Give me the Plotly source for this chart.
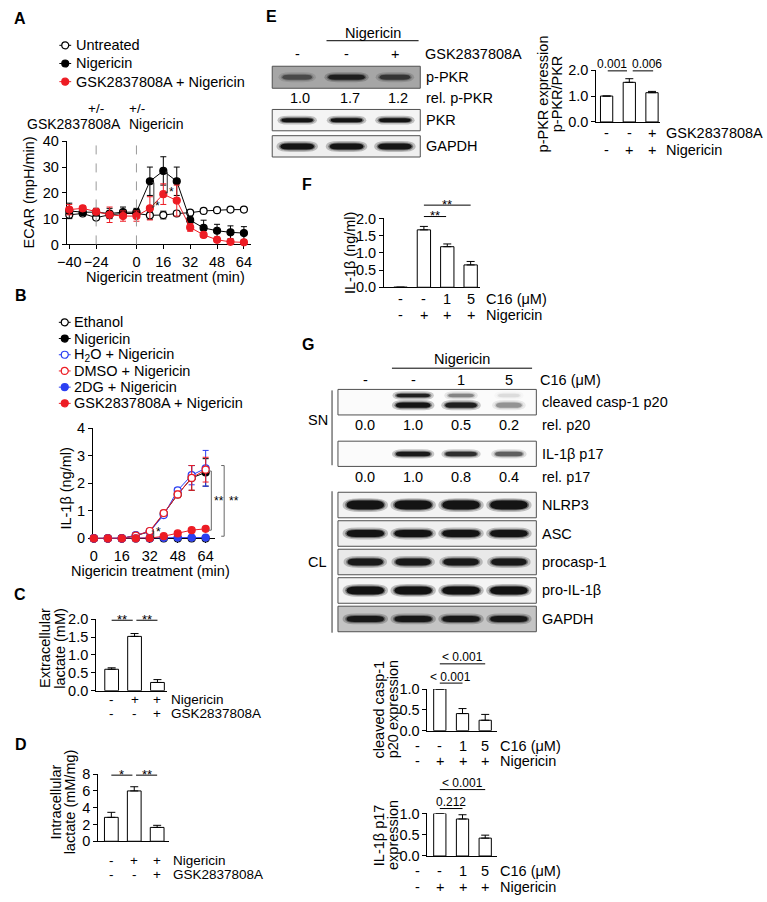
import plotly.graph_objects as go

W, H = 767, 902
FONT = "Liberation Sans, Arial, Helvetica, sans-serif"
FS = 14.5
RED = "#ed1c24"
BLUE = "#2b3ff2"

# ---------------- data ----------------
# Panel A: ECAR (mpH/min)
a_time = [-40, -32, -24, -16, -8, 0, 8, 16, 24, 32, 40, 48, 56, 64]
a_untreated = [11.5, 12.0, 10.4, 11.5, 12.0, 12.0, 11.3, 11.4, 12.0, 12.3, 13.0, 13.3, 13.5, 13.5]
a_untreated_err = [1.2, 0.8, 0.6, 1.0, 1.0, 1.0, 1.5, 1.5, 0.8, 0.5, 0.6, 0.5, 0.5, 0.5]
a_nig = [13.0, 12.5, 12.5, 12.0, 12.5, 12.5, 24.5, 28.5, 24.5, 9.4, 6.4, 5.3, 4.7, 4.4]
a_nig_err = [3.0, 1.0, 1.5, 2.0, 2.0, 1.5, 5.5, 5.5, 5.5, 1.5, 3.0, 2.5, 2.5, 2.5]
a_gsk = [13.5, 14.0, 12.7, 11.5, 11.0, 11.0, 14.0, 19.5, 17.0, 6.6, 3.7, 1.8, 1.0, 0.8]
a_gsk_err = [2.0, 1.0, 1.0, 3.0, 2.0, 2.0, 4.5, 4.0, 6.0, 1.5, 1.0, 0.8, 0.5, 0.5]
a_xticks = [-40, -24, 0, 16, 32, 48, 64]

# Panel B: IL-1beta (ng/ml)
b_time = [0, 8, 16, 24, 32, 40, 48, 56, 64]
b_ethanol = [0.0, 0.0, 0.0, 0.0, 0.0, 0.0, 0.0, 0.0, 0.0]
b_ethanol_err = [0.0, 0.0, 0.0, 0.0, 0.0, 0.0, 0.0, 0.0, 0.0]
b_nig = [0.0, 0.0, 0.0, 0.1, 0.25, 0.9, 1.6, 2.2, 2.4]
b_nig_err = [0.0, 0.0, 0.0, 0.02, 0.05, 0.08, 0.1, 0.45, 0.5]
b_h2o = [0.0, 0.0, 0.0, 0.12, 0.25, 0.85, 1.75, 2.3, 2.55]
b_h2o_err = [0.0, 0.0, 0.0, 0.02, 0.05, 0.08, 0.1, 0.35, 0.65]
b_dmso = [0.0, 0.0, 0.0, 0.1, 0.27, 0.92, 1.6, 2.2, 2.5]
b_dmso_err = [0.0, 0.0, 0.0, 0.02, 0.05, 0.1, 0.12, 0.45, 0.45]
b_2dg = [0.0, 0.0, 0.0, 0.0, 0.0, 0.02, 0.03, 0.03, 0.03]
b_2dg_err = [0.0, 0.0, 0.0, 0.0, 0.0, 0.01, 0.01, 0.01, 0.01]
b_gsk = [0.0, 0.0, 0.0, 0.0, 0.01, 0.08, 0.18, 0.3, 0.35]
b_gsk_err = [0.0, 0.0, 0.0, 0.0, 0.01, 0.02, 0.03, 0.03, 0.04]
b_xticks = [0, 16, 32, 48, 64]

# Panel C / D: lactate
c_vals = [0.6, 1.52, 0.23]
c_err = [0.04, 0.08, 0.08]
d_vals = [2.85, 6.0, 1.65]
d_err = [0.6, 0.5, 0.25]
cd_nig = ["-", "+", "+"]
cd_gsk = ["-", "-", "+"]

# Panel E: p-PKR/PKR
e_vals = [1.0, 1.53, 1.13]
e_err = [0.0, 0.14, 0.05]
e_gsk = ["-", "-", "+"]
e_nig = ["-", "+", "+"]
e_rel = ["1.0", "1.7", "1.2"]
e_band_ppkr = [0.45, 0.8, 0.6]
e_band_pkr = [0.95, 0.95, 0.95]
e_band_gapdh = [0.95, 0.95, 0.95]

# Panel F: IL-1beta with C16
f_vals = [0.0, 1.67, 1.18, 0.65]
f_err = [0.0, 0.1, 0.08, 0.1]
c16 = ["-", "-", "1", "5"]
nig4 = ["-", "+", "+", "+"]

# Panel G
g1_vals = [0.0, 1.0, 0.41, 0.25]
g1_err = [0.0, 0.0, 0.12, 0.14]
g2_vals = [0.0, 1.0, 0.87, 0.42]
g2_err = [0.0, 0.0, 0.1, 0.07]
g_rel_p20 = ["0.0", "1.0", "0.5", "0.2"]
g_rel_p17 = ["0.0", "1.0", "0.8", "0.4"]
g_band_p20_up = [0.0, 0.85, 0.35, 0.08]
g_band_p20_low = [0.0, 0.95, 0.85, 0.3]
g_band_p17 = [0.0, 0.9, 0.75, 0.5]
g_band_nlrp3 = [0.95, 0.95, 0.95, 0.95]
g_band_asc = [0.95, 0.95, 0.95, 0.95]
g_band_procasp = [0.9, 0.9, 0.9, 0.9]
g_band_proil = [0.97, 0.97, 0.97, 0.97]
g_band_gapdh = [0.9, 0.9, 0.9, 0.9]

# ---------------- layout geometry (pixels) ----------------
AXES = {
    "A": dict(n=1, x=(57.5, 245.0), xr=(-42.1, 68.1), y=(135.7, 240.7), yr=(0, 40)),
    "B": dict(n=2, x=(84.0, 208.8), xr=(-1.13, 69.4), y=(428.0, 540.0), yr=(0, 4)),
    "C": dict(n=3, x=(87.3, 160.4), xr=(-0.72, 2.43), y=(622.3, 695.0), yr=(0, 2)),
    "D": dict(n=4, x=(89.3, 162.4), xr=(-0.62, 2.53), y=(780.0, 848.3), yr=(0, 8)),
    "E": dict(n=5, x=(594.0, 660.0), xr=(-0.5, 2.37), y=(63.3, 116.0), yr=(0, 2)),
    "F": dict(n=6, x=(379.0, 477.7), xr=(-0.747, 3.42), y=(214.3, 284.3), yr=(0, 2)),
    "G1": dict(n=7, x=(423.0, 494.0), xr=(0.413, 3.5), y=(693.3, 735.7), yr=(0, 1)),
    "G2": dict(n=8, x=(423.0, 494.0), xr=(0.413, 3.5), y=(820.0, 863.3), yr=(0, 1)),
}


def fx(p):
    return p / W


def fy(p):
    return 1 - p / H


def PX(ax, v):
    d = AXES[ax]
    x0, x1 = d["x"]
    r0, r1 = d["xr"]
    return x0 + (v - r0) / (r1 - r0) * (x1 - x0)


def PY(ax, v):
    d = AXES[ax]
    y0, y1 = d["y"]
    r0, r1 = d["yr"]
    return y1 - (v - r0) / (r1 - r0) * (y1 - y0)


def axref(ax):
    n = AXES[ax]["n"]
    return ("x" if n == 1 else f"x{n}"), ("y" if n == 1 else f"y{n}")


shapes = []
anns = []


def txt(x, y, s, size=FS, xa="center", ya="middle", angle=0, bold=False):
    if bold:
        s = f"<b>{s}</b>"
    anns.append(dict(x=fx(x), y=fy(y), xref="paper", yref="paper", text=s, showarrow=False,
                     xanchor=xa, yanchor=ya, textangle=angle, borderpad=0,
                     font=dict(size=size, family=FONT, color="black")))


def seg(x0, y0, x1, y1, color="black", width=1, dash="solid"):
    shapes.append(dict(type="line", xref="paper", yref="paper", x0=fx(x0), y0=fy(y0),
                       x1=fx(x1), y1=fy(y1), line=dict(color=color, width=width, dash=dash)))


def box(x0, y0, x1, y1, fill, lc="#555555"):
    shapes.append(dict(type="rect", xref="paper", yref="paper", x0=fx(x0), y0=fy(y0),
                       x1=fx(x1), y1=fy(y1), fillcolor=fill, line=dict(color=lc, width=1)))


def stadium(cx, cy, w, h):
    x0, x1 = cx - w / 2, cx + w / 2
    y0, y1 = cy - h / 2, cy + h / 2
    rx = min(h * 1.3, w / 2)
    return (f"M{fx(x0 + rx)},{fy(y0)} L{fx(x1 - rx)},{fy(y0)} Q{fx(x1)},{fy(y0)} {fx(x1)},{fy(cy)} "
            f"Q{fx(x1)},{fy(y1)} {fx(x1 - rx)},{fy(y1)} L{fx(x0 + rx)},{fy(y1)} "
            f"Q{fx(x0)},{fy(y1)} {fx(x0)},{fy(cy)} Q{fx(x0)},{fy(y0)} {fx(x0 + rx)},{fy(y0)} Z")


def band(cx, cy, w, h, a):
    if a <= 0:
        return
    for dw, dh, k in [(8, 5, 0.25), (3, 2, 0.45), (0, 0, 1.0)]:
        shapes.append(dict(type="path", xref="paper", yref="paper", path=stadium(cx, cy, w + dw, h + dh),
                           fillcolor=f"rgba(15,15,15,{min(1.0, a * k):.3f})", line=dict(width=0)))


def leg_sym(x, y, color, filled):
    seg(x - 6, y, x + 6, y, color=color, width=1)
    shapes.append(dict(type="circle", xref="paper", yref="paper", xsizemode="pixel", ysizemode="pixel",
                       xanchor=fx(x), yanchor=fy(y), x0=-3.5, x1=3.5, y0=-3.5, y1=3.5,
                       fillcolor=color if filled else "white", line=dict(color=color, width=1.2)))


fig = go.Figure()


def line_trace(ax, xs, ys, err, color, filled):
    xr, yr = axref(ax)
    fig.add_trace(go.Scatter(
        x=xs, y=ys, mode="lines+markers", xaxis=xr, yaxis=yr, cliponaxis=False,
        line=dict(color=color, width=1),
        marker=dict(symbol="circle", size=7, color=color if filled else "white",
                    line=dict(color=color, width=1.2)),
        error_y=dict(type="data", array=err, symmetric=True, color=color, thickness=1, width=3)))


def bar_trace(ax, vals, err, width):
    xr, yr = axref(ax)
    fig.add_trace(go.Bar(
        x=list(range(len(vals))), y=vals, width=width, xaxis=xr, yaxis=yr,
        marker=dict(color="white", line=dict(color="black", width=1)),
        error_y=dict(type="data", array=err, arrayminus=[0] * len(err), symmetric=False,
                     color="black", thickness=1, width=4)))


# ---- Panel A ----
line_trace("A", a_time, a_untreated, a_untreated_err, "black", False)
line_trace("A", a_time, a_nig, a_nig_err, "black", True)
line_trace("A", a_time, a_gsk, a_gsk_err, RED, True)
# ---- Panel B ----
line_trace("B", b_time, b_ethanol, b_ethanol_err, "black", False)
line_trace("B", b_time, b_nig, b_nig_err, "black", True)
line_trace("B", b_time, b_h2o, b_h2o_err, BLUE, False)
line_trace("B", b_time, b_dmso, b_dmso_err, RED, False)
line_trace("B", b_time, b_2dg, b_2dg_err, BLUE, True)
line_trace("B", b_time, b_gsk, b_gsk_err, RED, True)
# ---- bars ----
bar_trace("C", c_vals, c_err, 0.6)
bar_trace("D", d_vals, d_err, 0.6)
bar_trace("E", e_vals, e_err, 0.54)
bar_trace("F", f_vals, f_err, 0.57)
bar_trace("G1", g1_vals, g1_err, 0.54)
bar_trace("G2", g2_vals, g2_err, 0.54)

# ---- axes ----
layout_axes = {}
tickinfo = {
    "A": dict(x=dict(tickvals=a_xticks), y=dict(tickvals=[0, 10, 20, 30, 40])),
    "B": dict(x=dict(tickvals=b_xticks), y=dict(tickvals=[0, 1, 2, 3, 4])),
    "C": dict(y=dict(tickvals=[0, 0.5, 1, 1.5, 2], ticktext=["0.0", "0.5", "1.0", "1.5", "2.0"])),
    "D": dict(y=dict(tickvals=[0, 2, 4, 6, 8])),
    "E": dict(y=dict(tickvals=[0, 1, 2], ticktext=["0.0", "1.0", "2.0"])),
    "F": dict(y=dict(tickvals=[0, 0.5, 1, 1.5, 2], ticktext=["0.0", "0.5", "1.0", "1.5", "2.0"])),
    "G1": dict(y=dict(tickvals=[0, 0.5, 1], ticktext=["0.0", "0.5", "1.0"])),
    "G2": dict(y=dict(tickvals=[0, 0.5, 1], ticktext=["0.0", "0.5", "1.0"])),
}
for ax, d in AXES.items():
    n = d["n"]
    xr, yr = axref(ax)
    base = dict(showline=True, linecolor="black", linewidth=1, showgrid=False, zeroline=False,
                ticks="outside", ticklen=4, tickwidth=1, tickcolor="black", fixedrange=True,
                tickfont=dict(size=FS, family=FONT, color="black"), layer="below traces")
    xa = dict(base, domain=[d["x"][0] / W, d["x"][1] / W], range=list(d["xr"]), anchor=yr)
    ya = dict(base, domain=[1 - d["y"][1] / H, 1 - d["y"][0] / H], range=list(d["yr"]),
              anchor="free", position=d["x"][0] / W, side="left")
    ti = tickinfo[ax]
    if "x" in ti:
        xa.update(tickmode="array", **ti["x"])
    else:
        xa.update(ticks="", showticklabels=False)
    ya.update(tickmode="array", **ti["y"])
    layout_axes["xaxis" if n == 1 else f"xaxis{n}"] = xa
    layout_axes["yaxis" if n == 1 else f"yaxis{n}"] = ya

# ---------------- annotations & decorations ----------------
# Panel letters
for lab, x, y in [("A", 11, 11), ("B", 12, 293), ("C", 11, 597), ("D", 12, 750),
                  ("E", 266, 9), ("F", 302, 180), ("G", 303, 343)]:
    txt(x, y, lab, size=16, bold=True)

# Panel A legend
a_leg = [("Untreated", "black", False), ("Nigericin", "black", True), ("GSK2837808A + Nigericin", RED, True)]
for i, (name, col, fill) in enumerate(a_leg):
    y = 38 + i * 18.5
    leg_sym(57, y, col, fill)
    txt(67, y, name, xa="left")

# Panel A axes decorations
for xv in [-24, 0]:
    seg(PX("A", xv), PY("A", 0), PX("A", xv), 131.5, color="#9a9a9a", width=1, dash="dash")
txt(PX("A", -24), 102.5, "+/-", size=13.5)
txt(114, 118.5, "GSK2837808A", xa="right", size=14)
txt(121, 102.5, "+/-", xa="left", size=13.5)
txt(121, 118.5, "Nigericin", xa="left", size=14)
txt(20, 188, "ECAR (mpH/min)", angle=-90)
txt(158.5, 274, "Nigericin treatment (min)")
for xv, lo, hi in [(8, 14.5, 24.0), (16, 20.0, 28.0)]:
    bx = PX("A", xv) + 4
    seg(bx, PY("A", lo), bx, PY("A", hi), color="#333333")
    seg(bx - 2, PY("A", lo), bx, PY("A", lo), color="#333333")
    seg(bx - 2, PY("A", hi), bx, PY("A", hi), color="#333333")
    txt(bx + 4, PY("A", lo) - 1, "*", size=12)

# Panel B legend
b_leg = [("Ethanol", "black", False), ("Nigericin", "black", True), ("H<sub>2</sub>O + Nigericin", BLUE, False),
         ("DMSO + Nigericin", RED, False), ("2DG + Nigericin", BLUE, True), ("GSK2837808A + Nigericin", RED, True)]
for i, (name, col, fill) in enumerate(b_leg):
    y = 320 + i * 16.5
    leg_sym(56.5, y, col, fill)
    txt(65, y, name, xa="left")
txt(58, 489, "IL-1β (ng/ml)", angle=-90)
txt(143, 573, "Nigericin treatment (min)")
bx = PX("B", 32) + 4
seg(bx, PY("B", 0.27), bx, PY("B", 0.02), color="#333333")
seg(bx - 2, PY("B", 0.27), bx, PY("B", 0.27), color="#333333")
txt(bx + 5, PY("B", 0.24), "*", size=12)
for lo, hi, lx, sx in [(0.3, 2.45, 205.0, 212.5), (0.08, 2.65, 218.0, 227.5)]:
    seg(lx, PY("B", lo), lx, PY("B", hi), color="#666666")
    seg(lx - 3, PY("B", lo), lx, PY("B", lo), color="#666666")
    seg(lx - 3, PY("B", hi), lx, PY("B", hi), color="#666666")
    txt(sx, (PY("B", lo) + PY("B", hi)) / 2, "**", size=12)


def rows(ax, ys, syms_list, labels, label_x, size=FS):
    for y, syms, lab in zip(ys, syms_list, labels):
        for i, s in enumerate(syms):
            txt(PX(ax, i), y, s, size=size)
        txt(label_x, y, lab, xa="left", size=size)


def sig(ax, c0, c1, ypx, label, size=12, dy=-1.0, lc=None):
    seg(PX(ax, c0), ypx, PX(ax, c1), ypx)
    c = (c0 + c1) / 2 if lc is None else lc
    txt(PX(ax, c), ypx + dy, label, size=size)


# Panel C
rows("C", [704, 718], [cd_nig, cd_gsk], ["Nigericin", "GSK2837808A"], 163, size=13.5)
txt(37, 652, "Extracellular", angle=-90)
txt(52, 652, "lactate (mM)", angle=-90)
sig("C", 0.0, 0.92, 623.3, "**", size=13)
sig("C", 1.08, 2.0, 623.3, "**", size=13)

# Panel D
rows("D", [868, 882], [cd_nig, cd_gsk], ["Nigericin", "GSK2837808A"], 165, size=13.5)
txt(47.5, 808, "Intracellular", angle=-90)
txt(61.5, 808, "lactate (mM/mg)", angle=-90)
sig("D", 0.0, 0.92, 781, "*", size=13)
sig("D", 1.08, 2.0, 781, "**", size=13)

# Panel E blot
e_lanes = [292, 342, 391]
txt(368.5, 25, "Nigericin")
seg(321.7, 33.3, 415, 33.3)
for x, s in zip(e_lanes, e_gsk):
    txt(x, 46.7, s)
txt(420, 46.7, "GSK2837808A", xa="left")
box(266.7, 59.3, 416.7, 81.7, "#a6a6a6", lc="#505050")
box(266.7, 103.3, 416.7, 125.0, "#f4f4f4", lc="#505050")
box(266.7, 130.0, 416.7, 151.7, "#efefef", lc="#505050")
for x, a, w in zip(e_lanes, e_band_ppkr, [30, 37, 31]):
    band(x, 70.5, w, 5, a)
for x, a in zip(e_lanes, e_band_pkr):
    band(x, 114.2, 32, 4, a)
for x, a in zip(e_lanes, e_band_gapdh):
    band(x, 141.0, 34, 6, a)
for x, s in zip(e_lanes, e_rel):
    txt(x + 3, 91.7, s)
txt(421, 70.5, "p-PKR", xa="left")
txt(421, 91.7, "rel. p-PKR", xa="left")
txt(421, 114.2, "PKR", xa="left")
txt(421, 141.0, "GAPDH", xa="left")

# Panel E chart
rows("E", [127.3, 144.3], [e_gsk, e_nig], ["GSK2837808A", "Nigericin"], 665)
txt(542, 87, "p-PKR expression", angle=-90)
txt(556, 87, "p-PKR/PKR", angle=-90)
sig("E", 0.05, 0.9, 64, "0.001", size=12, dy=-6.5, lc=0.25)
sig("E", 1.15, 2.05, 64, "0.006", size=12, dy=-6.5, lc=1.8)

# Panel F
rows("F", [296, 313], [c16, nig4], ["C16 (μM)", "Nigericin"], 482)
txt(345, 250, "IL-1β (ng/ml)", angle=-90)
sig("F", 1.0, 1.95, 212.3, "**", size=13)
sig("F", 1.0, 3.0, 200.7, "**", size=13)

# Panel G blot
g_lanes = [361, 409.5, 458, 506.5]
txt(458.5, 357, "Nigericin")
seg(388, 366.7, 530, 366.7)
for x, s in zip(g_lanes, c16):
    txt(x, 378.3, s)
txt(537, 378.3, "C16 (μM)", xa="left")
GX0, GX1 = 333.3, 534.3
box(GX0, 388.3, GX1, 414.3, "#fbfbfb", lc="#505050")
box(GX0, 441.0, GX1, 466.7, "#fbfbfb", lc="#505050")
cl_boxes = [("NLRP3", 493.0, 519.0, "#f3f3f3", g_band_nlrp3, 9, 38),
            ("ASC", 522.0, 548.0, "#f0f0f0", g_band_asc, 7, 38),
            ("procasp-1", 551.0, 577.0, "#e9e9e9", g_band_procasp, 7, 36),
            ("pro-IL-1β", 580.0, 606.0, "#f4f4f4", g_band_proil, 8, 38),
            ("GAPDH", 609.0, 635.0, "#c4c4c4", g_band_gapdh, 6, 38)]
for lab, y0, y1, fill, bands, bh, bw in cl_boxes:
    box(GX0, y0, GX1, y1, fill, lc="#505050")
    for x, a in zip(g_lanes, bands):
        band(x, (y0 + y1) / 2, bw, bh, a)
    txt(539, (y0 + y1) / 2, lab, xa="left")
for x, a, w in zip(g_lanes, g_band_p20_up, [0, 34, 26, 22]):
    band(x, 394.5, w, 3.5, a)
for x, a, w in zip(g_lanes, g_band_p20_low, [0, 35, 32, 26]):
    band(x, 404.3, w, 5.5, a)
for x, a, w in zip(g_lanes, g_band_p17, [0, 35, 32, 28]):
    band(x, 454.0, w, 4.5, a)
for x, s in zip(g_lanes, g_rel_p20):
    txt(x, 424.3, s)
for x, s in zip(g_lanes, g_rel_p17):
    txt(x, 477.3, s)
txt(539, 401.3, "cleaved casp-1 p20", xa="left")
txt(539, 424.3, "rel. p20", xa="left")
txt(539, 454.0, "IL-1β p17", xa="left")
txt(539, 477.3, "rel. p17", xa="left")
seg(327.3, 389.3, 327.3, 465.5, color="#333333")
txt(313, 419.3, "SN")
seg(327.3, 492.0, 327.3, 636.0, color="#333333")
txt(313, 564.0, "CL")

# Panel G charts
rows("G1", [751, 767], [c16, nig4], ["C16 (μM)", "Nigericin"], 496)
txt(375, 714, "cleaved casp-1", angle=-90)
txt(389, 714, "p20 expression", angle=-90)
sig("G1", 1.0, 3.0, 667.7, "&lt; 0.001", size=12, dy=-6.5, lc=1.98)
sig("G1", 1.0, 2.0, 687.3, "&lt; 0.001", size=12, dy=-6.5, lc=1.48)

rows("G2", [879, 894.5], [c16, nig4], ["C16 (μM)", "Nigericin"], 496)
txt(375, 842, "IL-1β p17", angle=-90)
txt(389, 842, "expression", angle=-90)
sig("G2", 1.0, 3.0, 795.7, "&lt; 0.001", size=12, dy=-6.5, lc=1.98)
sig("G2", 1.0, 2.0, 815.0, "0.212", size=12, dy=-6.5, lc=1.5)

fig.update_layout(
    width=W, height=H, autosize=False, margin=dict(l=0, r=0, t=0, b=0, pad=0),
    paper_bgcolor="white", plot_bgcolor="rgba(0,0,0,0)", showlegend=False,
    font=dict(family=FONT, size=FS, color="black"),
    shapes=shapes, annotations=anns, bargap=0.2, **layout_axes)

fig.write_html("out.html", config={"displayModeBar": False, "staticPlot": True},
               post_script="document.body.style.margin='0px';")
